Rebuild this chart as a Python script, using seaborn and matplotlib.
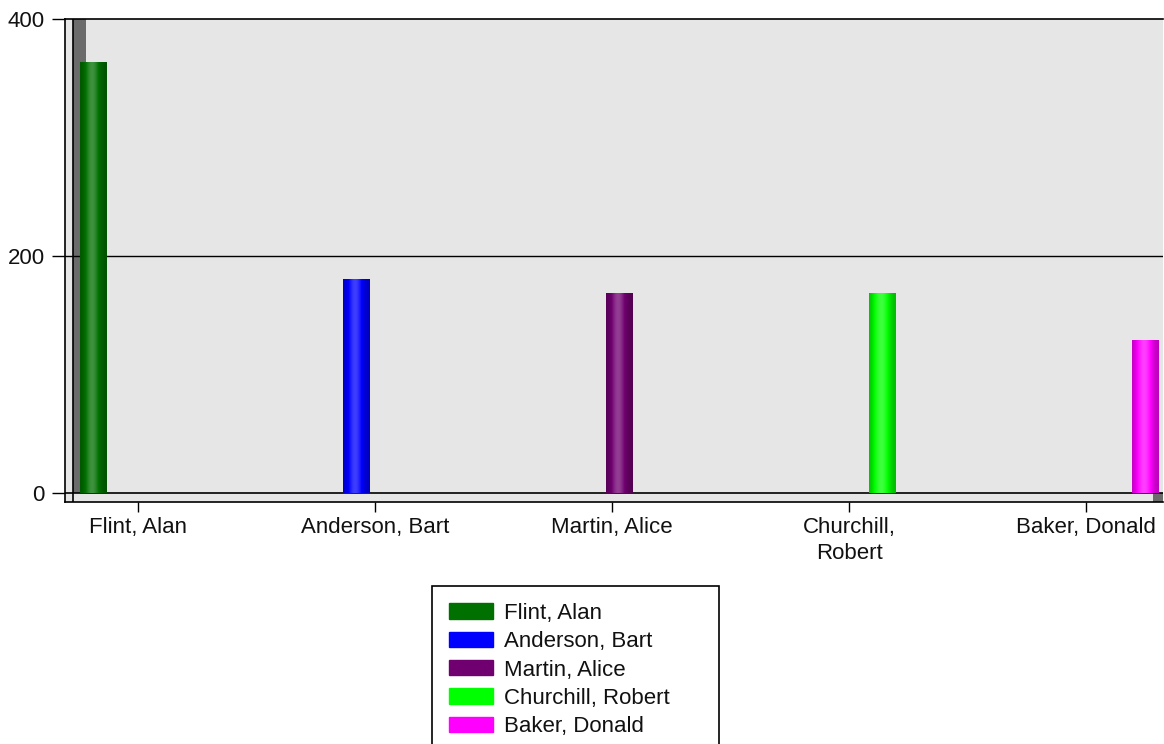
import numpy as np
import pandas as pd
import matplotlib
matplotlib.use("Agg")
import matplotlib.pyplot as plt
import seaborn as sns
from matplotlib.patches import Rectangle, Patch
from matplotlib.colors import to_rgb

# ---- data ----
names = ["Flint, Alan", "Anderson, Bart", "Martin, Alice", "Churchill, Robert", "Baker, Donald"]
values = [364, 181, 169, 169, 129]
tick_labels = ["Flint, Alan", "Anderson, Bart", "Martin, Alice", "Churchill,\nRobert", "Baker, Donald"]
y_ticks = [0, 200, 400]
colors = ["#007000", "#0000ff", "#700070", "#00ff00", "#ff00ff"]

df = pd.DataFrame({"name": names, "value": values})

sns.set_theme(style="white")
plt.rcParams["font.family"] = ["Liberation Sans", "DejaVu Sans"]

FS = 16
W, H = 1164, 744
fig = plt.figure(figsize=(W / 100, H / 100), dpi=100)
L, R, T, B = 65, 1163, 19, 502
ax = fig.add_axes([L / W, 1 - B / H, (R - L) / W, (B - T) / H])
ax.set_facecolor("#e6e6e6")

sns.barplot(data=df, x="name", y="value", hue="name", order=names, hue_order=names,
            palette=colors, dodge=True, width=0.55, legend=False, ax=ax, zorder=3,
            edgecolor="none", linewidth=0)

# cylinder-like shading of each bar
def shade(base, n=64):
    base = np.array(to_rgb(base))
    t = np.linspace(0, 1, n)
    k = 0.72 + 0.55 * np.exp(-((t - 0.45) / 0.3) ** 2)
    out = np.empty((1, n, 3))
    for i, kk in enumerate(k):
        if kk <= 1:
            out[0, i] = base * kk
        else:
            out[0, i] = base + (1 - base) * (kk - 1) * 0.9
    return np.clip(out, 0, 1)

for p, c in zip([p for p in ax.patches if p.get_height() > 0], colors):
    x0, y0 = p.get_x(), p.get_y()
    w, h = p.get_width(), p.get_height()
    im = ax.imshow(shade(c), extent=(x0, x0 + w, y0, y0 + h), aspect="auto",
                   zorder=3.5, interpolation="bilinear")
    im.set_clip_path(p)

# axes limits (category centre at px 145, tick at px 138, spacing 237 px)
ppx = 237.0
ax.set_xlim((L - 145) / ppx, (R - 145) / ppx)
ypx = (493 - 19) / 400.0
ax.set_ylim(-(B - 493) / ypx, 400)
ax.set_xticks(np.arange(len(names)) - 7 / ppx)
ax.set_xticklabels(tick_labels, fontsize=FS, color="#111111", linespacing=1.3)
ax.set_yticks(y_ticks)
ax.set_yticklabels([str(v) for v in y_ticks], fontsize=FS, color="#111111")
ax.set_xlabel("")
ax.set_ylabel("")
ax.tick_params(axis="y", length=9.5, width=1, color="black", pad=5, left=True)
ax.tick_params(axis="x", length=7, width=1, color="black", pad=4, bottom=True)

# grid line at 200 and floor line at 0
ax.axhline(200, color="black", lw=1, zorder=2)
ax.axhline(0, color="black", lw=1.2, zorder=2.6)

# spines
for s in ["left", "bottom", "top"]:
    ax.spines[s].set_visible(True)
    ax.spines[s].set_color("black")
    ax.spines[s].set_linewidth(1.2)
ax.spines["right"].set_visible(False)

# pseudo-3D side wall and floor decoration
aw, ah = R - L, B - T
yfloor = (B - 493) / ah
ax.add_patch(Rectangle(((73 - L) / aw, yfloor), (86 - 73) / aw, 1 - yfloor,
                       transform=ax.transAxes, facecolor="#6b6b6b",
                       edgecolor="none", zorder=1.5))
ax.plot([(73 - L) / aw] * 2, [0, 1], transform=ax.transAxes, color="black",
        lw=1.2, zorder=1.6)
ax.add_patch(Rectangle(((1153 - L) / aw, 0), (R - 1153) / aw, yfloor,
                       transform=ax.transAxes, facecolor="#6b6b6b",
                       edgecolor="none", zorder=1.5))

# legend
handles = [Patch(facecolor=c, edgecolor=c) for c in colors]
fig.legend(handles, names, loc="upper left",
           bbox_to_anchor=(432 / W, 1 - 586 / H, (719 - 432) / W, 0.0),
           mode="expand", ncol=1, fontsize=FS, frameon=True, fancybox=False,
           framealpha=1, edgecolor="black", borderpad=0.76, handlelength=2.0,
           handleheight=0.68, handletextpad=0.5, labelspacing=0.33,
           borderaxespad=0)
leg = fig.legends[0]
leg.get_frame().set_linewidth(1.2)
for t in leg.get_texts():
    t.set_color("#111111")

fig.savefig("out.png", dpi=100, facecolor="white")
